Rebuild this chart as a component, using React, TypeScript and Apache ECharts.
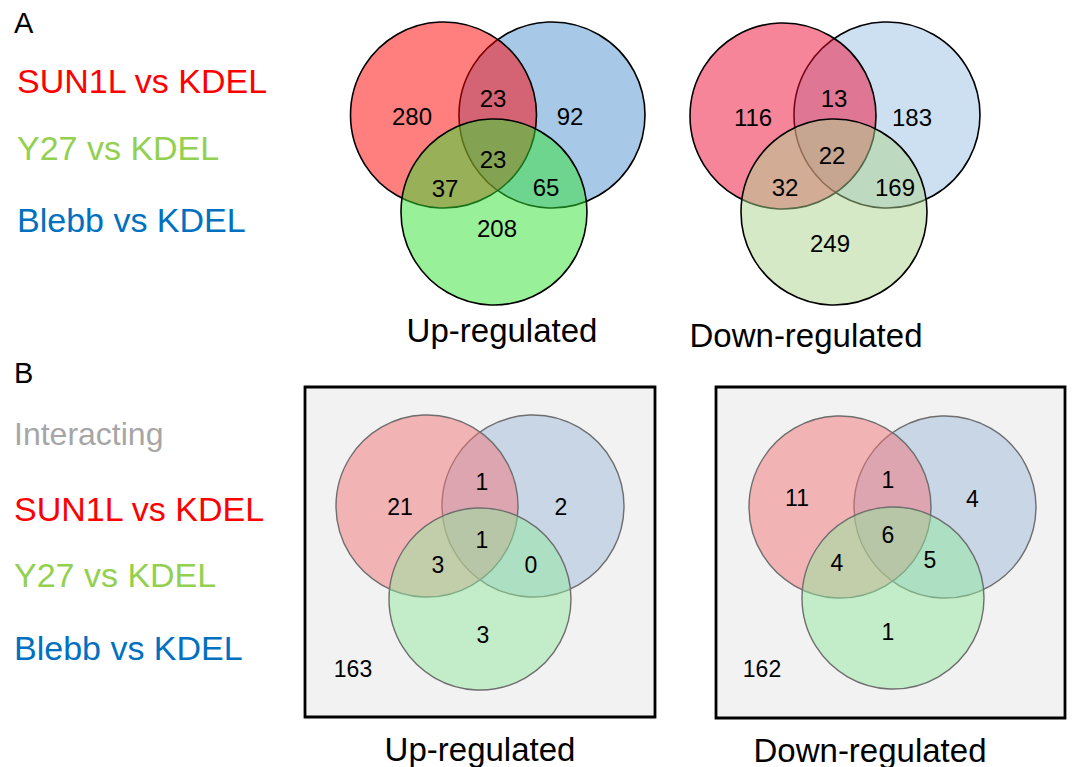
import React, { useEffect, useRef } from "react";
import * as echarts from "echarts";

// ---------- data ----------
// region order: SUN1L only, SUN1L∩Blebb, Blebb only, all three, SUN1L∩Y27, Blebb∩Y27, Y27 only
const regionNames = ["SUN1L only", "SUN1L & Blebb", "Blebb only", "All three", "SUN1L & Y27", "Blebb & Y27", "Y27 only"];
const upAllCounts = [280, 23, 92, 23, 37, 65, 208];
const downAllCounts = [116, 13, 183, 22, 32, 169, 249];
const upInteractingCounts = [21, 1, 2, 1, 3, 0, 3];
const downInteractingCounts = [11, 1, 4, 6, 4, 5, 1];
const outsideCounts = [163, 162]; // up, down (interacting panels)
const comparisonLabels = ["SUN1L vs KDEL", "Y27 vs KDEL", "Blebb vs KDEL"];
const comparisonColors = ["#FF0000", "#92D050", "#0070C0"];
const panelTitles = ["Up-regulated", "Down-regulated"];
const sectionLetters = ["A", "B"];
const interactingLabel = "Interacting";

// ---------- layout ----------
type Panel = {
  counts: number[];
  outside?: number;
  title: string;
  red: [number, number];
  blue: [number, number];
  green: [number, number];
  r: number;
  origin: [number, number];
  offsets: [number, number][];
  outsideOffset?: [number, number];
  colors: { red: string; blue: string; green: string };
  stroke: string;
  strokeWidth: number;
  fontSize: number;
  titlePos: [number, number];
  box?: [number, number, number, number];
};

const FONT = '"Liberation Sans", Arial, Helvetica, sans-serif';

const panels: Panel[] = [
  {
    counts: upAllCounts,
    title: panelTitles[0],
    red: [443.5, 115],
    blue: [552, 115],
    green: [494, 212],
    r: 93,
    origin: [498, 115],
    offsets: [[-86, 1], [-5, -17], [72, 1], [-5, 44], [-53, 73], [48, 72], [-1, 113]],
    colors: { red: "rgba(255,0,0,0.5)", blue: "rgba(81,145,209,0.5)", green: "rgba(49,225,49,0.5)" },
    stroke: "#000000",
    strokeWidth: 1.6,
    fontSize: 24,
    titlePos: [502, 330],
  },
  {
    counts: downAllCounts,
    title: panelTitles[1],
    red: [783, 116],
    blue: [887, 115],
    green: [834, 212],
    r: 93,
    origin: [835, 115.5],
    offsets: [[-82, 1.5], [-1, -17.5], [77, 1.5], [-3, 40], [-50, 72], [60, 72], [-5, 128]],
    colors: { red: "rgba(239,11,53,0.5)", blue: "rgba(153,193,229,0.5)", green: "rgba(173,211,141,0.5)" },
    stroke: "#000000",
    strokeWidth: 1.6,
    fontSize: 24,
    titlePos: [806, 335],
  },
  {
    counts: upInteractingCounts,
    outside: outsideCounts[0],
    title: panelTitles[0],
    red: [427, 506],
    blue: [533, 506],
    green: [480, 599],
    r: 91,
    origin: [480, 506],
    offsets: [[-80, 1], [2, -24], [81, 1], [2, 34], [-42, 59], [51, 59], [3, 129]],
    outsideOffset: [-127, 163],
    colors: { red: "rgba(242,116,120,0.5)", blue: "rgba(160,186,218,0.5)", green: "rgba(146,232,158,0.5)" },
    stroke: "#6E6E6E",
    strokeWidth: 1.4,
    fontSize: 23,
    titlePos: [480, 749],
    box: [305, 387, 350, 330],
  },
  {
    counts: downInteractingCounts,
    outside: outsideCounts[1],
    title: panelTitles[1],
    red: [840, 507],
    blue: [945, 507],
    green: [893, 598],
    r: 91,
    origin: [892.5, 507],
    offsets: [[-95.5, -9], [-4.5, -27], [80, -8], [-4.5, 28], [-55.5, 56], [37.5, 53], [-4.5, 125]],
    outsideOffset: [-130.5, 162],
    colors: { red: "rgba(242,116,120,0.5)", blue: "rgba(160,186,218,0.5)", green: "rgba(146,232,158,0.5)" },
    stroke: "#6E6E6E",
    strokeWidth: 1.4,
    fontSize: 23,
    titlePos: [870, 750],
    box: [716, 387, 349, 331],
  },
];

function text(x: number, y: number, t: string, size: number, fill: string, align = "center"): any {
  return {
    type: "text",
    x,
    y,
    silent: true,
    style: {
      text: t,
      fill,
      fontSize: size,
      fontFamily: FONT,
      textAlign: align,
      textVerticalAlign: "middle",
    },
  };
}

function buildGraphics(): any[] {
  const els: any[] = [];
  // section letters and side labels
  els.push(text(14, 23, sectionLetters[0], 29, "#000", "left"));
  const aYs = [81, 148, 220];
  comparisonLabels.forEach((l, i) => els.push(text(17, aYs[i], l, 34, comparisonColors[i], "left")));
  els.push(text(14, 373, sectionLetters[1], 29, "#000", "left"));
  els.push(text(14, 434, interactingLabel, 32, "#A6A6A6", "left"));
  const bYs = [509, 575, 648];
  comparisonLabels.forEach((l, i) => els.push(text(14, bYs[i], l, 34, comparisonColors[i], "left")));

  panels.forEach((p) => {
    if (p.box) {
      els.push({
        type: "rect",
        shape: { x: p.box[0], y: p.box[1], width: p.box[2], height: p.box[3] },
        style: { fill: "#F2F2F2", stroke: "#000", lineWidth: 2.8 },
        silent: true,
      });
    }
    const circ = (c: [number, number], fill: string) => ({
      type: "circle",
      shape: { cx: c[0], cy: c[1], r: p.r },
      style: { fill, stroke: p.stroke, lineWidth: p.strokeWidth },
      silent: true,
    });
    els.push(circ(p.blue, p.colors.blue));
    els.push(circ(p.red, p.colors.red));
    els.push(circ(p.green, p.colors.green));
    p.counts.forEach((v, i) => {
      const o = p.offsets[i];
      els.push({ ...text(p.origin[0] + o[0], p.origin[1] + o[1], String(v), p.fontSize, "#000"), name: regionNames[i] });
    });
    if (p.outside !== undefined && p.outsideOffset) {
      els.push(text(p.origin[0] + p.outsideOffset[0], p.origin[1] + p.outsideOffset[1], String(p.outside), p.fontSize, "#000"));
    }
    els.push(text(p.titlePos[0], p.titlePos[1], p.title, 33, "#000"));
  });
  return els;
}

export default function App() {
  const ref = useRef<HTMLDivElement>(null);
  useEffect(() => {
    document.body.style.margin = "0";
    const chart = echarts.init(ref.current!, null, { renderer: "svg" });
    chart.setOption({
      animation: false,
      backgroundColor: "#FFFFFF",
      graphic: { elements: buildGraphics() },
    });
    return () => chart.dispose();
  }, []);
  return <div ref={ref} style={{ width: 1072, height: 767 }} />;
}
